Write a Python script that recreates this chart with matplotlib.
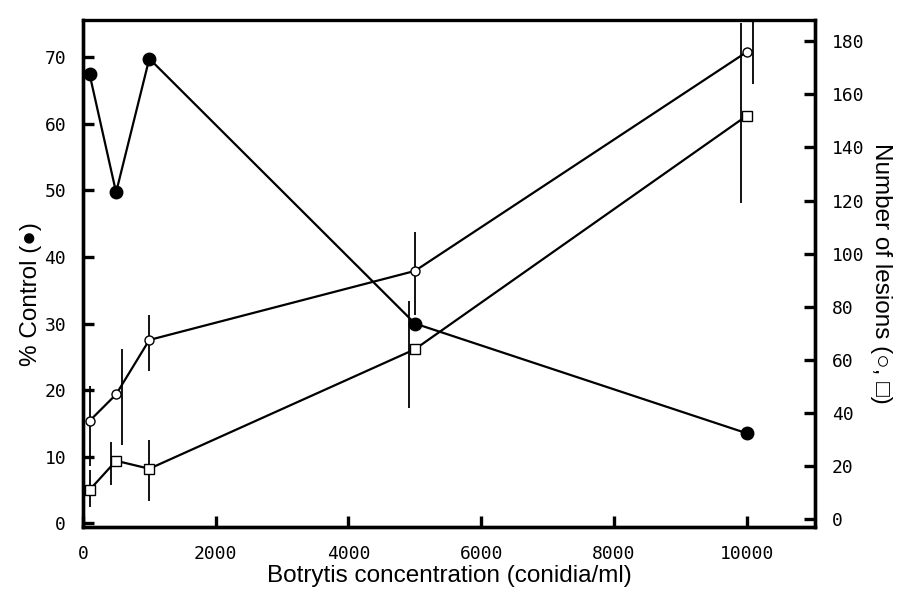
import numpy as np
import matplotlib
matplotlib.use("Agg")
import matplotlib.pyplot as plt

plt.rcParams["font.family"] = "Liberation Sans"

# Botrytis concentration (conidia/ml)
conc = [100, 500, 1000, 5000, 10000]

# % Control (filled circles, left axis)
pct_control = [67.5, 49.7, 69.8, 30.0, 13.5]

# Number of lesions, open circles (right axis) with error bar ends
lesions_circ = [37, 47, 67.5, 93.5, 176]
circ_lo = [20, 28, 56, 77, 164]
circ_hi = [50, 64, 77, 108, 188]

# Number of lesions, open squares (right axis) with error bar ends
lesions_sq = [11, 22, 19, 64, 152]
sq_lo = [4.5, 13, 7, 42, 119]
sq_hi = [18.5, 29, 30, 82, 187]

# small horizontal shifts of the hand-drawn error bars
circ_shift = [0, 90, 0, 0, 90]
sq_shift = [0, -75, 0, -90, -90]

fig = plt.figure(figsize=(9.01, 5.89), dpi=100)
ax = fig.add_axes([0.092, 0.105, 0.8125, 0.861])
ax2 = ax.twinx()

ax.plot(conc, pct_control, color="black", lw=1.6, marker="o", ms=9,
        mfc="black", mec="black", zorder=3)
ax.set_xlim(0, 11025)
ax.set_ylim(-0.6, 75.6)
ax.set_xticks(range(0, 10001, 2000))
ax.set_yticks(range(0, 71, 10))

ax2.plot(conc, lesions_circ, color="black", lw=1.6, marker="o", ms=6.5,
         mfc="white", mec="black", mew=1.0, zorder=3)
ax2.plot(conc, lesions_sq, color="black", lw=1.6, marker="s", ms=6.5,
         mfc="white", mec="black", mew=1.0, zorder=3)
ax2.vlines(np.array(conc) + np.array(circ_shift), circ_lo, circ_hi,
           color="black", lw=1.3, clip_on=False)
ax2.vlines(np.array(conc) + np.array(sq_shift), sq_lo, sq_hi,
           color="black", lw=1.3, clip_on=False)
ax2.set_ylim(-3, 188)
ax2.set_yticks(range(0, 181, 20))

for a in (ax, ax2):
    for s in a.spines.values():
        s.set_linewidth(2.4)
    a.tick_params(direction="in", length=8, width=2.4)
ax.spines["top"].set_linewidth(2.0)

ax.tick_params(axis="y", pad=12)
ax.tick_params(axis="x", pad=13)
ax2.tick_params(axis="y", pad=12)
for lab in ax.get_xticklabels() + ax.get_yticklabels() + ax2.get_yticklabels():
    lab.set_fontfamily("DejaVu Sans Mono")
    lab.set_fontsize(13)

ax.set_xlabel("Botrytis concentration (conidia/ml)", fontsize=17.5, labelpad=1)
ax.set_ylabel("% Control (\u25cf)", fontsize=17.5,
              family=["Liberation Sans", "DejaVu Sans"])
ax.yaxis.set_label_coords(-0.056, 0.46)
ax2.set_ylabel("Number of lesions (\u25cb, \u25a1)", fontsize=17.5, rotation=-90,
               labelpad=20, family=["Liberation Sans", "DejaVu Sans"])

fig.savefig("out.png", dpi=100)
